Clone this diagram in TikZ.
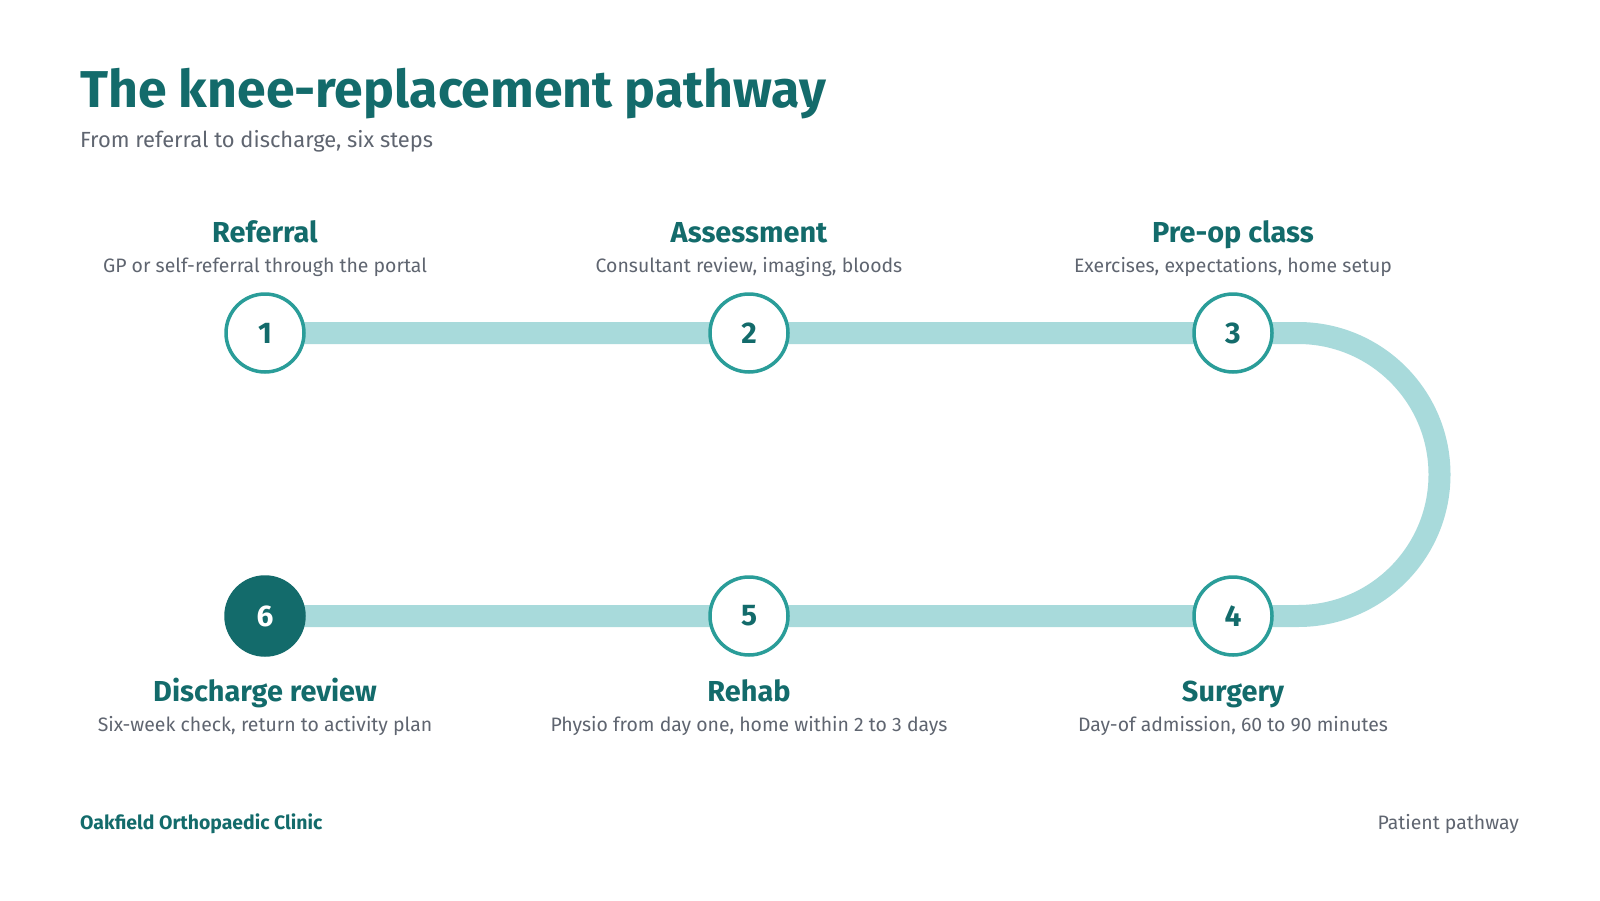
\documentclass[tikz,border=0pt]{standalone}
\usepackage{fontspec}
\setmainfont{Fira Sans}
\definecolor{dark}{HTML}{136B6B}
\definecolor{ring}{HTML}{2A9D99}
\definecolor{track}{HTML}{A8DADB}
\definecolor{grey}{HTML}{5F6570}
\begin{document}
\begin{tikzpicture}[x=1bp,y=-1bp,
 stepnode/.style={circle,draw=ring,line width=3.5bp,fill=white,minimum size=78bp,inner sep=0,font=\fontsize{30}{30}\selectfont\bfseries,text=dark},
 ttl/.style={font=\fontsize{29}{30}\selectfont\bfseries,text=dark,anchor=base},
 dsc/.style={font=\fontsize{19.5}{20}\selectfont,text=grey,anchor=base}]
\useasboundingbox[fill=white] (0,0) rectangle (1600,900);
\node[anchor=base west,font=\fontsize{52}{54}\selectfont\bfseries,text=dark,inner sep=0] (title) at (80,107) {The knee-replacement pathway};
\node[anchor=base west,font=\fontsize{22}{24}\selectfont,text=grey,inner sep=0] (sub) at (80,147) {From referral to discharge, six steps};
\coordinate (a) at (1298,333);
\coordinate (b) at (1298,616);
\draw[track,line width=22bp] (265,333) -- (a) arc[start angle=-90,end angle=90,radius=141.5] -- (265,616);
\node[stepnode] (s1) at (265,333) {1};
\node[stepnode] (s2) at (749,333) {2};
\node[stepnode] (s3) at (1233,333) {3};
\node[stepnode] (s4) at (1233,616) {4};
\node[stepnode] (s5) at (749,616) {5};
\node[stepnode,fill=dark,draw=dark,text=white] (s6) at (265,616) {6};
\node[ttl] (t1) at (265,242) {Referral};
\node[ttl] (t2) at (749,242) {Assessment};
\node[ttl] (t3) at (1233,242) {Pre-op class};
\node[dsc] (d1) at (265,272) {GP or self-referral through the portal};
\node[dsc] (d2) at (749,272) {Consultant review, imaging, bloods};
\node[dsc] (d3) at (1233,272) {Exercises, expectations, home setup};
\node[ttl] (t6) at (265,701) {Discharge review};
\node[ttl] (t5) at (749,701) {Rehab};
\node[ttl] (t4) at (1233,701) {Surgery};
\node[dsc] (d6) at (265,731) {Six-week check, return to activity plan};
\node[dsc] (d5) at (749,731) {Physio from day one, home within 2 to 3 days};
\node[dsc] (d4) at (1233,731) {Day-of admission, 60 to 90 minutes};
\node[anchor=base west,font=\fontsize{19.5}{20}\selectfont\bfseries,text=dark,inner sep=0] (f1) at (80,829) {Oakfield Orthopaedic Clinic};
\node[anchor=base east,font=\fontsize{19.5}{20}\selectfont,text=grey,inner sep=0] (f2) at (1519,829) {Patient pathway};
\end{tikzpicture}
\end{document}
